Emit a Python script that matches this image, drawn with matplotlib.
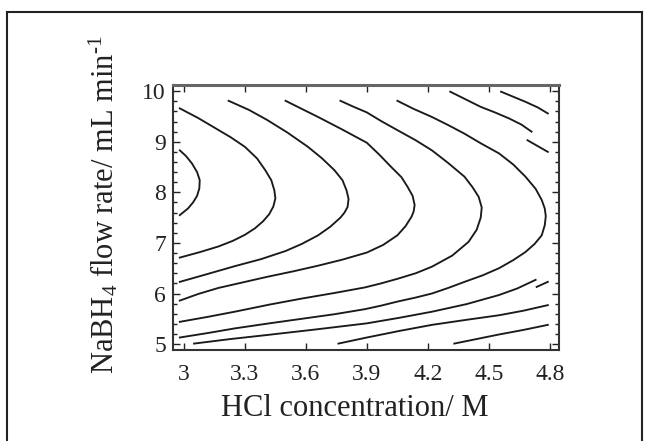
import matplotlib.pyplot as plt
from matplotlib.lines import Line2D
from matplotlib.ticker import MultipleLocator

plt.rcParams['font.family'] = ['Liberation Serif', 'DejaVu Serif']
plt.rcParams['mathtext.fontset'] = 'custom'
plt.rcParams['mathtext.rm'] = 'Liberation Serif'
plt.rcParams['mathtext.it'] = 'Liberation Serif:italic'

# contour lines (HCl conc. M, NaBH4 flow mL/min)
line_a_x = [2.98, 3.01, 3.04, 3.065, 3.078, 3.076, 3.065, 3.045, 3.02, 2.98]
line_a_y = [8.83, 8.72, 8.57, 8.40, 8.24, 8.08, 7.93, 7.80, 7.68, 7.55]

line_b_x = [2.98, 3.07, 3.15, 3.23, 3.30, 3.36, 3.40, 3.43, 3.445, 3.45, 3.44, 3.42,
            3.39, 3.35, 3.30, 3.24, 3.17, 3.08, 2.98]
line_b_y = [9.66, 9.47, 9.28, 9.09, 8.90, 8.67, 8.44, 8.24, 8.04, 7.88, 7.72, 7.57,
            7.43, 7.29, 7.16, 7.04, 6.93, 6.82, 6.71]

line_c_x = [3.22, 3.32, 3.41, 3.51, 3.61, 3.68, 3.74, 3.78, 3.80, 3.81, 3.805, 3.79,
            3.77, 3.72, 3.66, 3.58, 3.50, 3.38, 3.25, 3.12, 2.98]
line_c_y = [9.81, 9.63, 9.43, 9.18, 8.90, 8.67, 8.44, 8.24, 8.04, 7.87, 7.71, 7.60,
            7.50, 7.32, 7.15, 6.98, 6.84, 6.68, 6.54, 6.39, 6.23]

line_d_x = [3.50, 3.58, 3.66, 3.78, 3.90, 3.96, 4.02, 4.07, 4.10, 4.125, 4.135, 4.13,
            4.12, 4.09, 4.05, 3.98, 3.90, 3.78, 3.66, 3.54, 3.41, 3.29, 3.17, 3.07, 2.98]
line_d_y = [9.81, 9.65, 9.49, 9.24, 8.98, 8.75, 8.50, 8.30, 8.11, 7.93, 7.75, 7.62,
            7.52, 7.33, 7.15, 6.96, 6.81, 6.67, 6.55, 6.44, 6.33, 6.22, 6.11, 5.99, 5.86]

line_e_x = [3.77, 3.83, 3.90, 3.97, 4.05, 4.14, 4.22, 4.30, 4.38, 4.42, 4.45, 4.465,
            4.46, 4.44, 4.40, 4.32, 4.22, 4.14, 4.05, 3.97, 3.89, 3.74, 3.58, 3.42,
            3.25, 3.12, 2.98]
line_e_y = [9.81, 9.70, 9.58, 9.41, 9.23, 9.03, 8.83, 8.58, 8.31, 8.10, 7.91, 7.70,
            7.50, 7.26, 7.02, 6.75, 6.53, 6.40, 6.29, 6.20, 6.12, 6.01, 5.90, 5.78,
            5.64, 5.54, 5.44]

line_f_x = [4.05, 4.13, 4.22, 4.30, 4.38, 4.46, 4.55, 4.62, 4.68, 4.73, 4.76, 4.775,
            4.78, 4.775, 4.76, 4.725, 4.68, 4.62, 4.55, 4.47, 4.38, 4.30, 4.22, 4.14,
            4.05, 3.97, 3.89, 3.74, 3.58, 3.42, 3.25, 3.12, 2.98]
line_f_y = [9.81, 9.65, 9.49, 9.33, 9.16, 8.97, 8.77, 8.55, 8.31, 8.07, 7.85, 7.68,
            7.53, 7.35, 7.15, 6.98, 6.82, 6.66, 6.50, 6.36, 6.23, 6.11, 6.00, 5.92,
            5.84, 5.76, 5.69, 5.59, 5.50, 5.41, 5.31, 5.22, 5.13]

line_g_top_x = [4.31, 4.39, 4.46, 4.53, 4.60, 4.66, 4.71]
line_g_top_y = [9.99, 9.83, 9.69, 9.58, 9.46, 9.34, 9.20]
line_g_tail_x = [4.69, 4.79]
line_g_tail_y = [9.03, 8.80]
line_g_low_x = [3.05, 3.23, 3.41, 3.65, 3.90, 4.06, 4.22, 4.39, 4.55, 4.64, 4.73]
line_g_low_y = [5.01, 5.10, 5.18, 5.29, 5.41, 5.52, 5.64, 5.79, 5.97, 6.10, 6.27]
line_g_hook_x = [4.735, 4.79]
line_g_hook_y = [6.13, 6.23]

line_h_top_x = [4.56, 4.62, 4.68, 4.74, 4.79]
line_h_top_y = [9.99, 9.89, 9.79, 9.68, 9.56]
line_h_low_x = [3.76, 3.90, 4.06, 4.22, 4.39, 4.55, 4.67, 4.79]
line_h_low_y = [5.01, 5.13, 5.26, 5.38, 5.48, 5.57, 5.66, 5.77]

line_i_low_x = [4.33, 4.44, 4.55, 4.67, 4.79]
line_i_low_y = [5.01, 5.10, 5.19, 5.28, 5.38]

contours = [
    (line_a_x, line_a_y), (line_b_x, line_b_y), (line_c_x, line_c_y),
    (line_d_x, line_d_y), (line_e_x, line_e_y), (line_f_x, line_f_y),
    (line_g_top_x, line_g_top_y), (line_g_tail_x, line_g_tail_y),
    (line_g_low_x, line_g_low_y), (line_g_hook_x, line_g_hook_y),
    (line_h_top_x, line_h_top_y), (line_h_low_x, line_h_low_y),
    (line_i_low_x, line_i_low_y),
]

x_ticks = [3, 3.3, 3.6, 3.9, 4.2, 4.5, 4.8]
x_tick_labels = ['3', '3.3', '3.6', '3.9', '4.2', '4.5', '4.8']
y_ticks = [5, 6, 7, 8, 9, 10]

fig = plt.figure(figsize=(6.5, 4.41), dpi=100)
ax = fig.add_axes([0.266, 0.206, 0.594, 0.601])

for xs, ys in contours:
    ax.plot(xs, ys, color='#1a1a1a', lw=1.35, solid_joinstyle='round')

ax.set_xlim(2.946, 4.845)
ax.set_ylim(4.88, 10.12)
ax.set_xticks(x_ticks)
ax.set_xticklabels(x_tick_labels)
ax.set_yticks(y_ticks)
ax.yaxis.set_minor_locator(MultipleLocator(0.2))

ax.tick_params(which='both', direction='in', top=True, right=True,
               labelsize=17, colors='#222222', width=1.0)
ax.tick_params(which='major', length=5)
ax.tick_params(which='minor', length=3)
ax.tick_params(axis='x', pad=10)
ax.tick_params(axis='y', pad=5)

for side in ['left', 'right', 'bottom']:
    ax.spines[side].set_linewidth(1.5)
    ax.spines[side].set_color('#333333')
ax.spines['top'].set_linewidth(2.2)
ax.spines['top'].set_color('#666666')

ax.set_xlabel('HCl concentration/ M', fontsize=22, color='#222222')
ax.set_ylabel(r'NaBH$_4$ flow rate/ mL min$^{\text{-}1}$', fontsize=22,
              color='#222222')
ax.xaxis.set_label_coords(0.47, -0.165)
ax.yaxis.set_label_coords(-0.135, 0.55)

# outer frame of the figure
fig.add_artist(Line2D([0.0115, 0.0115], [0.0, 0.973], transform=fig.transFigure,
                      color='#222222', lw=1.5))
fig.add_artist(Line2D([0.0115, 0.988], [0.973, 0.973], transform=fig.transFigure,
                      color='#222222', lw=1.5))
fig.add_artist(Line2D([0.988, 0.988], [0.973, 0.0], transform=fig.transFigure,
                      color='#222222', lw=1.5))

fig.savefig('out.png', dpi=100)
